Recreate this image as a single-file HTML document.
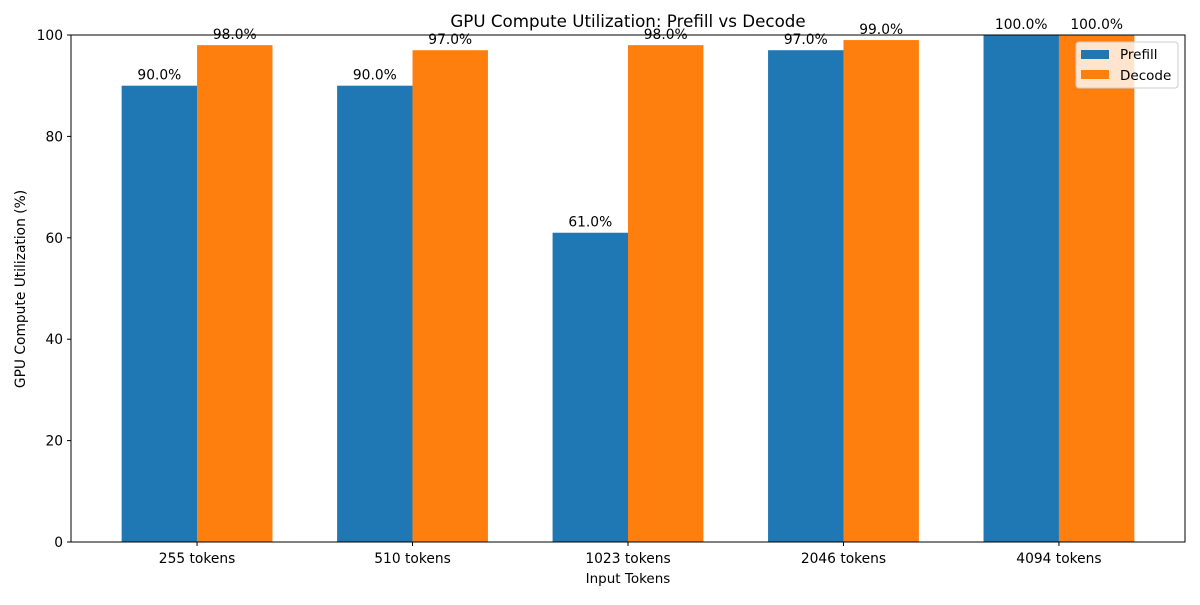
<!DOCTYPE html>
<html><head><meta charset="utf-8"><style>
body{margin:0;background:#fff;}
svg{font-family:"DejaVu Sans","Liberation Sans",sans-serif;}
</style></head><body>
<svg id="chart" width="1200" height="600" xmlns="http://www.w3.org/2000/svg">
<rect width="1200" height="600" fill="#fff"/>
<text x="628" y="27" text-anchor="middle" font-size="16.7">GPU Compute Utilization: Prefill vs Decode</text>
<g id="bars"></g>
<g id="axes"></g>
<text x="628" y="583" text-anchor="middle" font-size="13.5">Input Tokens</text>
<text transform="translate(25,289) rotate(-90)" text-anchor="middle" font-size="13.8">GPU Compute Utilization (%)</text>
<g>
<rect x="1076" y="42" width="102" height="46" fill="#fff" fill-opacity="0.8" stroke="#ccc" rx="3"/>
<rect x="1081" y="50" width="28" height="9" fill="#1f77b4"/>
<text x="1120" y="59" font-size="13.5">Prefill</text>
<rect x="1081" y="70" width="28" height="9" fill="#ff7f0e"/>
<text x="1120" y="80" font-size="13.5">Decode</text>
</g>
</svg>
<script>
const categories=["255 tokens","510 tokens","1023 tokens","2046 tokens","4094 tokens"];
const prefill=[90,90,61,97,100];
const decode=[98,97,98,99,100];
const yTicks=[0,20,40,60,80,100];
const L=71,R=1185,T=35,B=542;
const xMin=-0.585,xMax=categories.length-1+0.585;
const xs=i=>L+(i-xMin)/(xMax-xMin)*(R-L);
const ys=v=>B-v/100*(B-T);
const bw=0.35*(R-L)/(xMax-xMin);
const NS="http://www.w3.org/2000/svg";
const bars=document.getElementById('bars'),axes=document.getElementById('axes');
function mk(tag,attrs,parent){const e=document.createElementNS(NS,tag);for(const k in attrs)e.setAttribute(k,attrs[k]);parent.appendChild(e);return e;}
const series=[["prefill",prefill,"#1f77b4",-1],["decode",decode,"#ff7f0e",0]];
categories.forEach((c,i)=>{
  series.forEach(([nm,arr,col,off])=>{
    const x=xs(i)+off*bw;
    const r=mk('rect',{x:x,y:ys(arr[i]),width:bw,height:B-ys(arr[i]),fill:col},bars);
    
    
    const t=mk('text',{x:x+bw/2,y:ys(arr[i])-6,'text-anchor':'middle','font-size':'13.8'},bars);
    t.textContent=arr[i].toFixed(1)+'%';
    
    
  });
  mk('line',{x1:xs(i),x2:xs(i),y1:B,y2:B+4,stroke:'#000'},axes);
  const t=mk('text',{x:xs(i),y:B+21,'text-anchor':'middle','font-size':'13.8'},axes);
  t.textContent=c;
  
  
});
yTicks.forEach(v=>{
  mk('line',{x1:L-4,x2:L,y1:ys(v),y2:ys(v),stroke:'#000'},axes);
  const t=mk('text',{x:L-8,y:ys(v)+5,'text-anchor':'end','font-size':'13.8'},axes);
  t.textContent=v;
  
  
});
const f=mk('rect',{x:L,y:T,width:R-L,height:B-T,fill:'none',stroke:'#000','stroke-width':1},axes);


</script>
</body></html>
